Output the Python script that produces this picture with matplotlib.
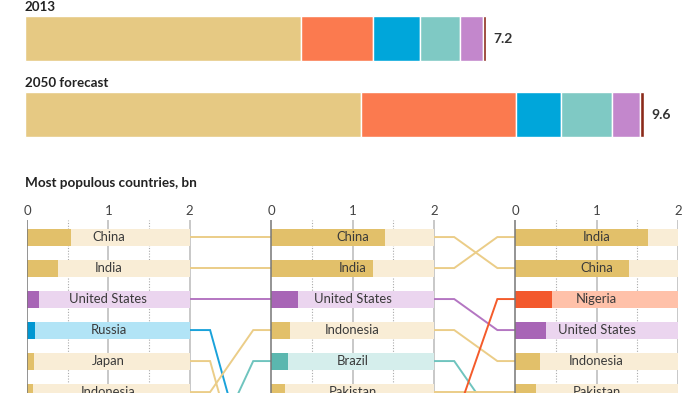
import matplotlib
matplotlib.use("Agg")
import matplotlib.pyplot as plt

plt.rcParams['font.family'] = ['Lato', 'DejaVu Sans']

# ---------------- data ----------------
regions = ["Asia", "Africa", "Europe", "Latin America", "North America", "Oceania"]
region_colors = ["#E6C983", "#FB7A4F", "#00A6DA", "#7FC9C4", "#C387CC", "#8B2A1A"]
bar_years = ["2013", "2050 forecast"]
pop_2013 = [4.30, 1.11, 0.74, 0.62, 0.36, 0.04]
pop_2050 = [5.23, 2.41, 0.70, 0.79, 0.44, 0.06]
totals = ["7.2", "9.6"]

panel_years = ["1950", "2013", "2050"]
countries_1950 = ["China", "India", "United States", "Russia", "Japan", "Indonesia",
                  "Germany", "Brazil", "Britain", "Italy"]
values_1950 = [0.54, 0.38, 0.15, 0.10, 0.08, 0.07, 0.07, 0.05, 0.05, 0.05]
countries_2013 = ["China", "India", "United States", "Indonesia", "Brazil", "Pakistan",
                  "Nigeria", "Bangladesh", "Russia", "Japan"]
values_2013 = [1.40, 1.25, 0.33, 0.23, 0.21, 0.17, 0.17, 0.16, 0.14, 0.13]
countries_2050 = ["India", "China", "Nigeria", "United States", "Indonesia", "Pakistan",
                  "Brazil", "Bangladesh", "Ethiopia", "Philippines"]
values_2050 = [1.63, 1.40, 0.45, 0.38, 0.31, 0.26, 0.23, 0.20, 0.19, 0.16]

country_group = {
    "China": "asia", "India": "asia", "Japan": "asia", "Indonesia": "asia",
    "Pakistan": "asia", "Bangladesh": "asia", "Philippines": "asia",
    "United States": "na", "Russia": "eu", "Germany": "eu", "Britain": "eu",
    "Italy": "eu", "Brazil": "latam", "Nigeria": "africa", "Ethiopia": "africa",
}
# (dark bar, light background, line)
group_colors = {
    "asia": ("#E2C06A", "#F9EDD6", "#EBCD88"),
    "na": ("#A865B6", "#EBD5EF", "#B476C2"),
    "eu": ("#0097D2", "#B2E4F6", "#1AA2DA"),
    "latam": ("#5BB7AF", "#D5EEEC", "#6FC4BE"),
    "africa": ("#F3592D", "#FFC1A9", "#F45B2B"),
}

panels = [(countries_1950, values_1950), (countries_2013, values_2013),
          (countries_2050, values_2050)]

fig = plt.figure(figsize=(7, 3.93), dpi=100)
fig.patch.set_facecolor("white")
W, H = 700, 393

# ---------------- top stacked bars ----------------
axt = fig.add_axes([25 / W, 1 - 145 / H, 675 / W, 145 / H])
axt.set_xlim(0, 675 / 64.3)
axt.set_ylim(1.40, -0.507)
axt.axis("off")
bar_h = 0.59
for i, vals in enumerate([pop_2013, pop_2050]):
    left = 0
    for v, c in zip(vals, region_colors):
        axt.barh(i, v, left=left, height=bar_h, color=c, edgecolor="white", linewidth=1.0)
        left += v
    axt.text(left + 0.11, i, totals[i], va="center", ha="left", fontsize=10,
             fontweight="bold", color="#333333")
    axt.annotate(bar_years[i], xy=(0, i - bar_h / 2), xytext=(0, 2.5), textcoords="offset points",
                 ha="left", va="bottom", fontsize=9.6, fontweight="bold", color="#222222")

# ---------------- title ----------------
fig.text(25 / W, 1 - 183 / H, "Most populous countries, bn", ha="left", va="center",
         fontsize=9.7, fontweight="bold", color="#222222")

# ---------------- bump panels ----------------
ax = fig.add_axes([27 / W, 0, 651 / W, (H - 220) / H])
offset = 3.0
ax.set_xlim(0, 8)
ax.set_ylim(6.03, 0.45)
for s in ax.spines.values():
    s.set_visible(False)
ax.set_yticks([])
ax.xaxis.tick_top()
ticks, labels = [], []
for p in range(3):
    for t in range(3):
        ticks.append(p * offset + t)
        labels.append(str(t))
ax.set_xticks(ticks)
ax.set_xticklabels(labels, fontsize=9.5, color="#444444")
ax.tick_params(axis="x", length=0, pad=2.5)

row_h = 0.55
for p, (names, vals) in enumerate(panels):
    x0 = p * offset
    # gridlines
    for g in (0.5, 1.5):
        ax.axvline(x0 + g, color="#AAAAAA", lw=0.8, ls=(0, (1, 1.5)), zorder=0)
    for g in (1, 2):
        ax.axvline(x0 + g, color="#C4C4C4", lw=1.3, zorder=0)
    ax.axvline(x0, color="#777777", lw=1.1, zorder=5)
    for r, (name, v) in enumerate(zip(names, vals), start=1):
        dark, light, _ = group_colors[country_group[name]]
        ax.barh(r, 2, left=x0, height=row_h, color=light, zorder=2)
        ax.barh(r, v, left=x0, height=row_h, color=dark, zorder=3)
        ax.text(x0 + 1, r, name, ha="center", va="center", fontsize=9.4,
                color="#3A3A3A", zorder=4)

# connecting lines
for p in range(2):
    names_a = panels[p][0]
    names_b = panels[p + 1][0]
    xa = p * offset + 2
    xb = (p + 1) * offset
    for ra, name in enumerate(names_a, start=1):
        if name in names_b:
            rb = names_b.index(name) + 1
            col = group_colors[country_group[name]][2]
            ax.plot([xa, xa + 0.25, xb - 0.22, xb], [ra, ra, rb, rb], color=col,
                    lw=1.4, zorder=1, solid_joinstyle="miter")

fig.savefig("out.png", dpi=100, facecolor="white")
